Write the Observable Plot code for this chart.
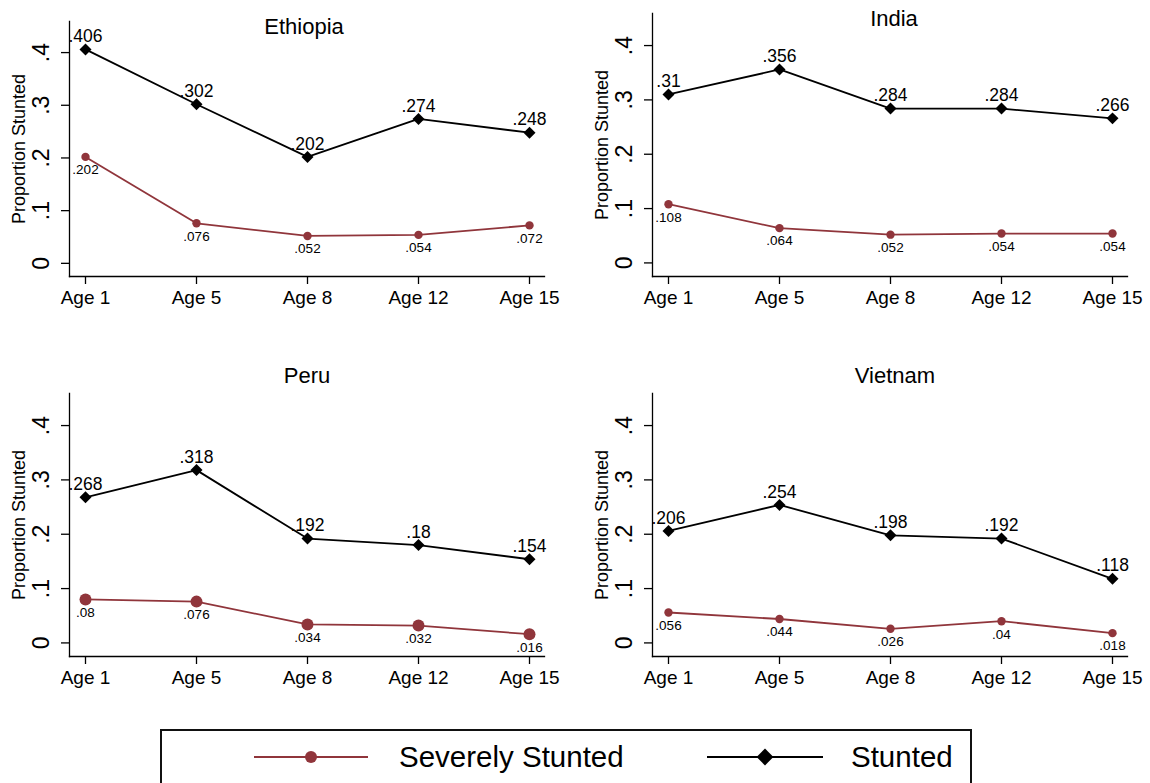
<!DOCTYPE html>
<html><head><meta charset="utf-8">
<script src="https://cdn.jsdelivr.net/npm/d3@7"></script>
<script src="https://cdn.jsdelivr.net/npm/@observablehq/plot@0.6"></script>
<style>
body{margin:0;background:#fff;font-family:"Liberation Sans",Arial,Helvetica,sans-serif;}
#wrap{position:relative;width:1150px;height:783px;overflow:hidden;background:#fff}
.panel{position:absolute}
.panel svg g[aria-label$="axis tick"] path{stroke-width:1.3}
.panel svg g[aria-label="frame"] line, .panel svg line{stroke-width:1.3}
#legend{position:absolute;left:0;top:0}
</style></head><body><div id="wrap"></div>
<script>
const ages = ["Age 1", "Age 5", "Age 8", "Age 12", "Age 15"];
const countries = ["Ethiopia", "India", "Peru", "Vietnam"];
const stuntedEthiopia = [0.406, 0.302, 0.202, 0.274, 0.248];
const severeEthiopia  = [0.202, 0.076, 0.052, 0.054, 0.072];
const stuntedIndia    = [0.31, 0.356, 0.284, 0.284, 0.266];
const severeIndia     = [0.108, 0.064, 0.052, 0.054, 0.054];
const stuntedPeru     = [0.268, 0.318, 0.192, 0.18, 0.154];
const severePeru      = [0.08, 0.076, 0.034, 0.032, 0.016];
const stuntedVietnam  = [0.206, 0.254, 0.198, 0.192, 0.118];
const severeVietnam   = [0.056, 0.044, 0.026, 0.04, 0.018];
const yTicks = [0, 0.1, 0.2, 0.3, 0.4];
const seriesNames = ["Severely Stunted", "Stunted"];
const yLabel = "Proportion Stunted";

const MAROON = "#90353B";
const FONT = '"Liberation Sans", Arial, Helvetica, sans-serif';
const fmt = v => v === 0 ? "0" : String(v).replace(/^0/, "");

const layouts = [
  {left: 0,   top: 0,   height: 330, mt: 21, mb: 54, ml: 69, mr: 31, titleDy: 5,   titleDx: -3, r: 4.2},
  {left: 575, top: 0,   height: 330, mt: 13, mb: 54, ml: 77, mr: 23, titleDy: 5,   titleDx: 4,  r: 4.2},
  {left: 0,   top: 360, height: 340, mt: 33, mb: 44, ml: 69, mr: 31, titleDy: -18, titleDx: 0,  r: 6},
  {left: 575, top: 360, height: 340, mt: 33, mb: 44, ml: 77, mr: 23, titleDy: -18, titleDx: 5,  r: 4.2}
];
const stuntedAll = [stuntedEthiopia, stuntedIndia, stuntedPeru, stuntedVietnam];
const severeAll = [severeEthiopia, severeIndia, severePeru, severeVietnam];

const wrap = document.getElementById("wrap");

countries.forEach((name, i) => {
  const L = layouts[i];
  const stunted = ages.map((a, j) => ({age: a, value: stuntedAll[i][j]}));
  const severe = ages.map((a, j) => ({age: a, value: severeAll[i][j]}));
  const chart = Plot.plot({
    width: 575,
    height: L.height,
    marginTop: L.mt, marginBottom: L.mb, marginLeft: L.ml, marginRight: L.mr,
    style: {fontFamily: FONT, fontSize: "19px", color: "#000", background: "transparent"},
    x: {type: "point", domain: ages, padding: 0.13, tickSize: 8, tickPadding: 6, line: true, label: null},
    y: {domain: [-0.025, 0.459], ticks: yTicks, tickSize: 8, tickFormat: () => "", line: true, label: null},
    marks: [
      Plot.text(yTicks, {y: d => d, text: fmt, frameAnchor: "left", rotate: -90, dx: -28, fontSize: 23, lineAnchor: "middle", textAnchor: "middle"}),
      Plot.text([yLabel], {text: d => d, frameAnchor: "left", rotate: -90, dx: -50, fontSize: 18, lineAnchor: "middle", textAnchor: "middle"}),
      Plot.text([name], {text: d => d, frameAnchor: "top", dy: L.titleDy, dx: L.titleDx, fontSize: 22, lineAnchor: "middle"}),
      Plot.line(severe, {x: "age", y: "value", stroke: MAROON, strokeWidth: 1.8}),
      Plot.dot(severe, {x: "age", y: "value", r: L.r, fill: MAROON, stroke: "none"}),
      Plot.line(stunted, {x: "age", y: "value", stroke: "#000", strokeWidth: 1.8}),
      Plot.dot(stunted, {x: "age", y: "value", symbol: "diamond2", r: 5.4, fill: "#000", stroke: "none"}),
      Plot.text(stunted, {x: "age", y: "value", text: d => fmt(d.value), dy: -13, fontSize: 17.5, lineAnchor: "middle"}),
      Plot.text(severe, {x: "age", y: "value", text: d => fmt(d.value), dy: 13, fontSize: 13.5, lineAnchor: "middle"})
    ]
  });
  const div = document.createElement("div");
  div.className = "panel";
  div.style.left = L.left + "px";
  div.style.top = L.top + "px";
  div.appendChild(chart);
  wrap.appendChild(div);
});

// Legend
const svg = d3.select(wrap).append("svg").attr("id", "legend")
  .attr("width", 1150).attr("height", 783)
  .style("position", "absolute").style("left", "0px").style("top", "0px");
svg.append("rect").attr("x", 161).attr("y", 730).attr("width", 810).attr("height", 80)
  .attr("fill", "none").attr("stroke", "#111").attr("stroke-width", 2);
const ly = 757;
// Severely stunted
svg.append("line").attr("x1", 254).attr("x2", 368).attr("y1", ly).attr("y2", ly)
  .attr("stroke", MAROON).attr("stroke-width", 2);
svg.append("circle").attr("cx", 311).attr("cy", ly).attr("r", 6).attr("fill", MAROON);
svg.append("text").attr("x", 399).attr("y", ly).attr("dy", "0.35em")
  .attr("font-family", FONT).attr("font-size", 29.5).text(seriesNames[0]);
// Stunted
svg.append("line").attr("x1", 707).attr("x2", 823).attr("y1", ly).attr("y2", ly)
  .attr("stroke", "#000").attr("stroke-width", 2);
svg.append("path").attr("d", d3.symbol(d3.symbolDiamond2, 180)()).attr("transform", `translate(765,${ly})`).attr("fill", "#000");
svg.append("text").attr("x", 851).attr("y", ly).attr("dy", "0.35em")
  .attr("font-family", FONT).attr("font-size", 29.5).text(seriesNames[1]);
</script>
</body></html>
